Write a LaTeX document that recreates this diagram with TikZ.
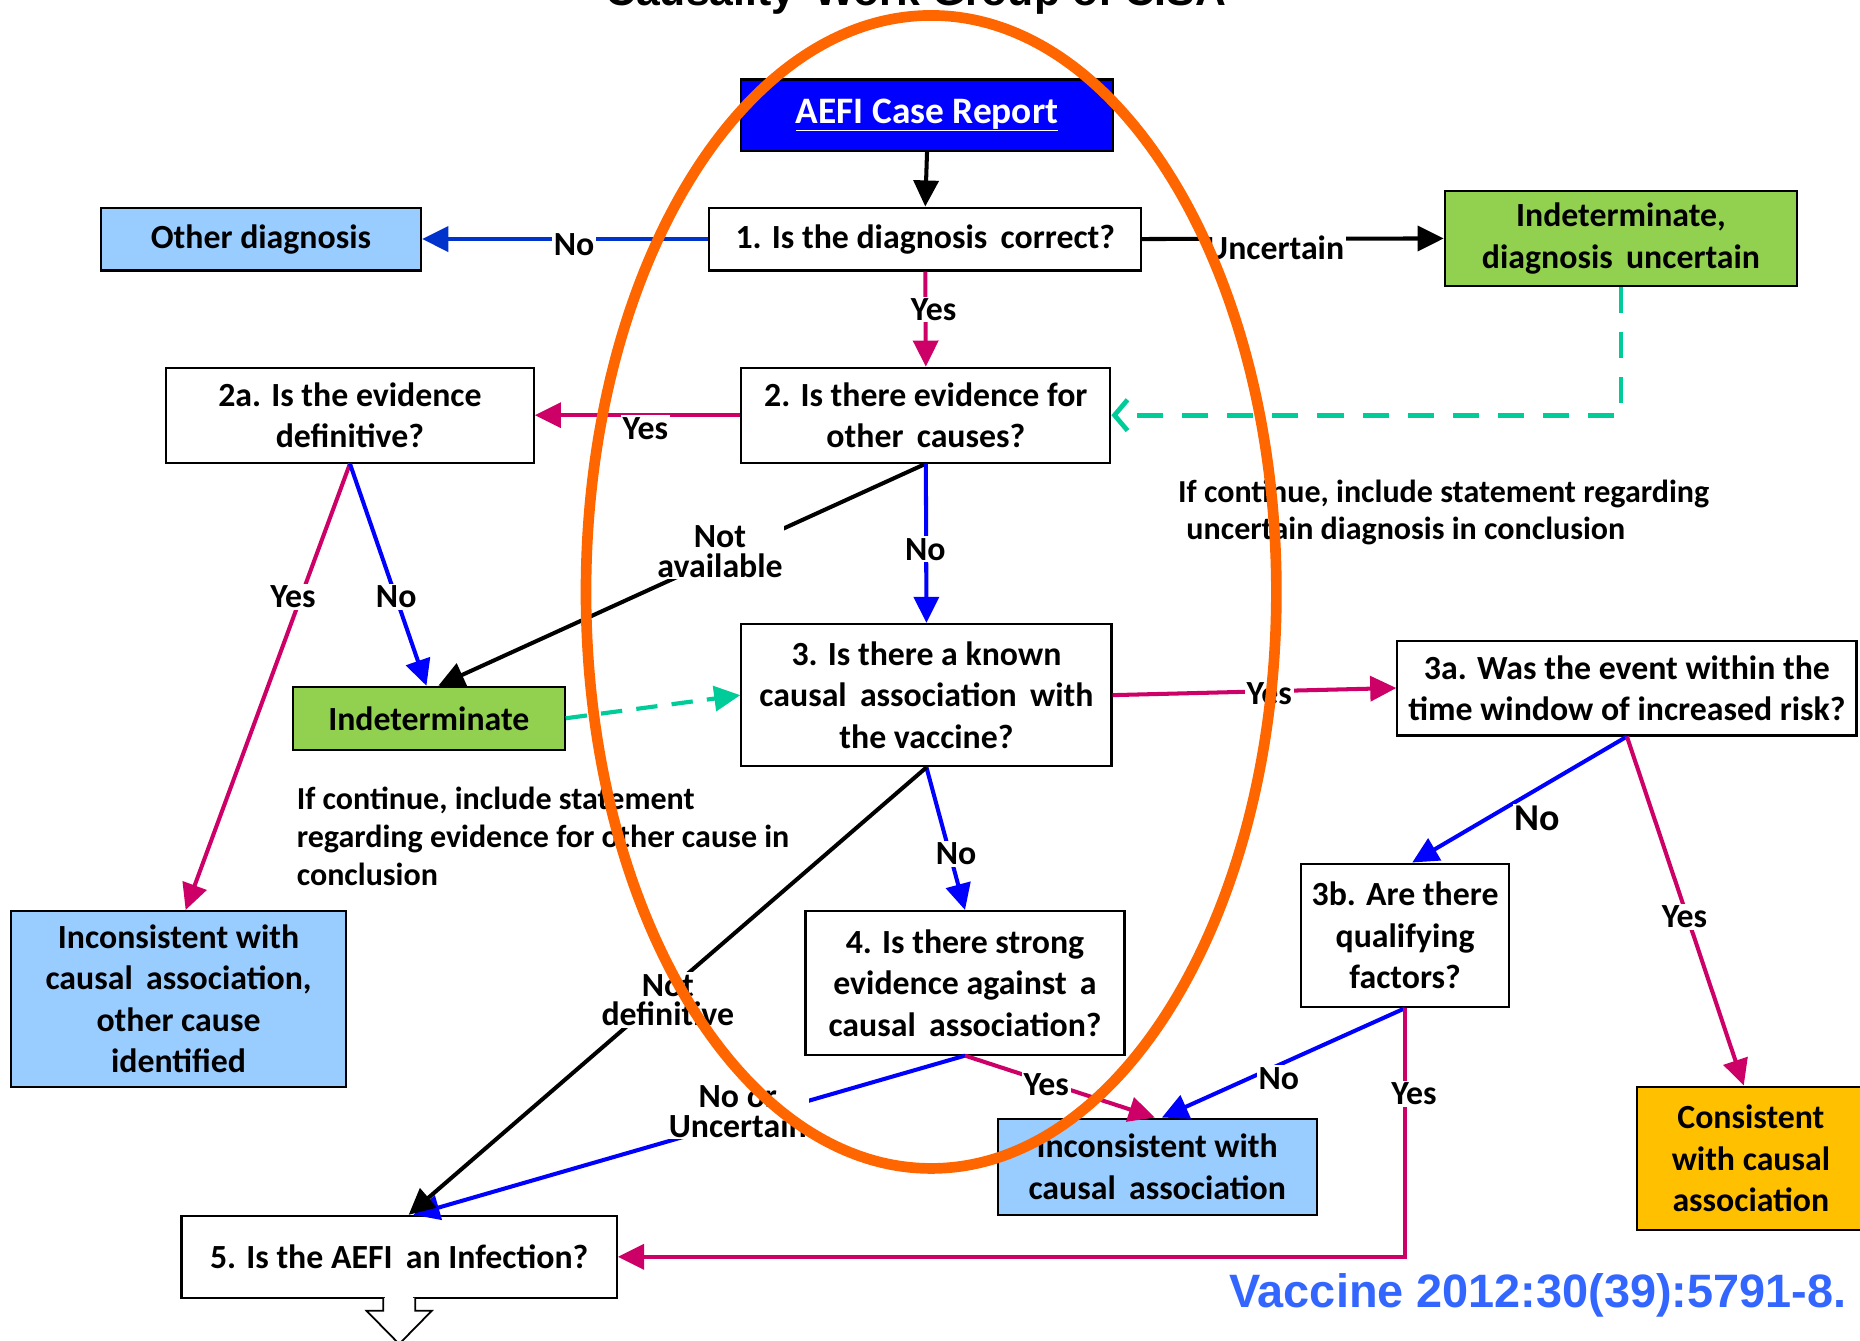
\documentclass[tikz,border=0pt]{standalone}
\usepackage{fontspec}
\setmainfont{Carlito}
\newfontfamily\headfont{Liberation Sans}
\usetikzlibrary{arrows.meta}

\definecolor{magline}{RGB}{204,0,102}
\definecolor{blueline}{RGB}{0,0,255}
\definecolor{darkblueline}{RGB}{0,51,204}
\definecolor{tealline}{RGB}{0,204,153}
\definecolor{boxblue}{RGB}{0,0,255}
\definecolor{paleblue}{RGB}{153,204,255}
\definecolor{leafgreen}{RGB}{146,208,80}
\definecolor{amber}{RGB}{255,192,0}
\definecolor{ringorange}{RGB}{255,102,0}
\definecolor{citeblue}{RGB}{51,102,255}

\newcommand\boxfont{\bfseries\fontsize{28.5}{35}\selectfont}
\newcommand\lblfont{\bfseries\fontsize{28.5}{25}\selectfont}
\newcommand\notefont{\bfseries\fontsize{27}{32}\selectfont}

\tikzset{
  qbox/.style={draw=black, line width=1.8pt, inner sep=0pt, align=center, font=\boxfont},
  lbl/.style={fill=white, inner sep=1.5pt, align=center, font=\lblfont},
  conn/.style={line width=3.4pt, -{Triangle[length=22pt,width=21pt]}},
  dashlink/.style={line width=4pt, color=tealline, dash pattern=on 22pt off 16pt},
  note/.style={inner sep=0pt, align=left, font=\notefont},
}

\begin{document}
\begin{tikzpicture}[x=1pt,y=-1pt]
\useasboundingbox (0,0) rectangle (1568,1130);
\begin{scope}
\clip (0,0) rectangle (1568,1130);

% heading, partly above the page edge
\node[anchor=base, inner sep=0pt, font=\headfont\bfseries\fontsize{36}{40}\selectfont] (title) at (772,5) {Causality\, Work Group of CISA};

% boxes
\node[qbox, fill=boxblue, minimum width=313, minimum height=60, text=white, font=\bfseries\fontsize{31.5}{36}\selectfont] (aefi) at (781.5,97) {\underline{AEFI Case Report}};
\node[qbox, minimum width=364, minimum height=53] (q1) at (780,201.5) {1. Is the diagnosis\, correct?};
\node[qbox, fill=paleblue, minimum width=270, minimum height=53] (other) at (220,201.5) {Other diagnosis};
\node[qbox, fill=leafgreen, minimum width=297, minimum height=80] (indu) at (1366.5,201) {\raisebox{-3pt}{\parbox{280pt}{\centering Indeterminate,\\diagnosis\, uncertain}}};
\node[qbox, minimum width=311, minimum height=80] (q2) at (780.5,350) {2. Is there evidence for\\other\, causes?};
\node[qbox, minimum width=310, minimum height=80] (q2a) at (295,350) {2a. Is the evidence\\definitive?};
\node[qbox, fill=leafgreen, minimum width=229, minimum height=53] (indet) at (361.5,605.5) {Indeterminate};
\node[qbox, minimum width=312, minimum height=120] (q3) at (781,586) {3. Is there a known\\causal\, association\, with\\the vaccine?};
\node[qbox, minimum width=387, minimum height=80] (q3a) at (1371.5,580) {3a. Was the event within the\\time window of increased risk?};
\node[qbox, minimum width=175, minimum height=121] (q3b) at (1184.5,788.5) {3b. Are there\\qualifying\\factors?};
\node[qbox, minimum width=269, minimum height=121] (q4) at (813.5,828.5) {4. Is there strong\\evidence against\, a\\causal\, association?};
\node[qbox, fill=paleblue, minimum width=283, minimum height=148] (incoth) at (150.5,842) {Inconsistent with\\causal\, association,\\other cause\\identified};
\node[qbox, fill=paleblue, minimum width=269, minimum height=81] (inc) at (975.5,983.5) {Inconsistent with\\causal\, association};
\node[qbox, fill=amber, minimum width=192, minimum height=121] (cons) at (1476,976.5) {Consistent\\with causal\\association};
\node[qbox, minimum width=367, minimum height=69] (q5) at (336.5,1059.5) {5. Is the AEFI\, an Infection?};

% hollow arrow leaving box 5
\fill[white] (324.5,1092) rectangle (348.5,1096);
\draw[line width=1.5pt, fill=white] (323,1094) -- (323,1105) -- (309,1105) -- (336.5,1133) -- (364,1105) -- (350,1105) -- (350,1094);

% connectors
\draw[conn, black] (aefi.south) -- (q1.north);
\draw[conn, darkblueline] (q1.west) -- (other.east);
\draw[conn, black] (q1.east) -- (indu.west);
\draw[conn, magline] (q1.south) -- (q2.north);
\draw[dashlink, -{Straight Barb[length=11pt,width=26pt,line width=4pt]}] (indu.south) |- (q2.east);
\draw[conn, magline] (q2.west) -- (q2a.east);
\draw[conn, black] (q2.south) -- ([xshift=8pt]indet.north);
\draw[conn, blueline] (q2.south) -- (q3.north);
\draw[conn, magline] (q2a.south) -- ([xshift=6pt]incoth.north);
\draw[conn, blueline] (q2a.south) -- ([xshift=-2pt]indet.north);
\draw[dashlink, line width=3.5pt, dash pattern=on 18pt off 12pt, -{Triangle[length=22pt,width=21pt]}] (indet.east) -- (q3.west);
\draw[conn, magline] (q3.east) -- (q3a.west);
\draw[conn, blueline] (q3.south) -- (q4.north);
\draw[conn, blueline] (q4.south) -- ([xshift=12pt]q5.north);
\draw[conn, black] (q3.south) -- ([xshift=8pt]q5.north);
\draw[conn, blueline] (q3a.south) -- ([xshift=6pt]q3b.north);
\draw[conn, magline] (q3a.south) -- ([xshift=-6pt]cons.north);
\draw[conn, blueline] (q3b.south) -- ([xshift=4pt]inc.north);
\draw[conn, magline] (q4.south) -- ([xshift=-2pt]inc.north);
\draw[conn, magline] (q3b.south) |- (q5.east);

% branch labels
\node[lbl] (l1) at (484,206) {No};
\node[lbl] (l2) at (1075,209) {Uncertain};
\node[lbl] (l3) at (787,261) {Yes};
\node[lbl] (l4) at (544,361) {Yes};
\node[lbl] (l5) at (607,465) {Not\\available};
\node[lbl] (l6) at (780,463) {No};
\node[lbl] (l7) at (247,503) {Yes};
\node[lbl] (l8) at (334,503) {No};
\node[lbl] (l9) at (1070,585) {Yes};
\node[lbl] (l10) at (806,720) {No};
\node[lbl] (l11) at (563,843) {Not\\definitive};
\node[lbl, font=\bfseries\fontsize{32}{36}\selectfont] (l12) at (1296,690) {No};
\node[lbl] (l13) at (1420,773) {Yes};
\node[lbl] (l14) at (1078,909) {No};
\node[lbl] (l15) at (1192,922) {Yes};
\node[lbl] (l16) at (882,914) {Yes};
\node[lbl] (l17) at (622,937) {No or\\Uncertain};

% notes
\node[note, anchor=west] (noteR) at (993,432) {If continue, include statement regarding\\\hspace*{7pt}uncertain diagnosis in conclusion};
\node[note, anchor=west] (noteL) at (250,705) {If continue, include statement\\regarding evidence for other cause in\\conclusion};

% citation
\node[anchor=base west, inner sep=0pt, text=citeblue, font=\headfont\bfseries\fontsize{39.5}{44}\selectfont] (cite) at (1036,1102) {Vaccine 2012:30(39):5791-8.};

% highlight ring over the central column
\draw[ringorange, line width=9pt] (785,499) ellipse [x radius=291, y radius=486];
\end{scope}
\end{tikzpicture}
\end{document}
